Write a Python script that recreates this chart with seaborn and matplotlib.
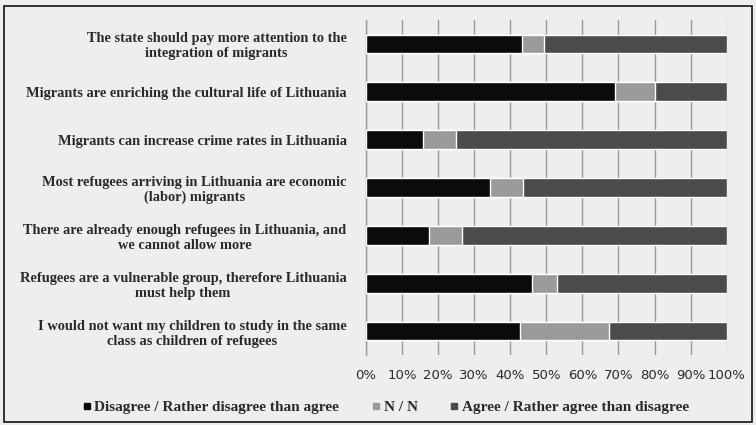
import matplotlib
matplotlib.use("Agg")
import matplotlib.pyplot as plt
from matplotlib.lines import Line2D
from matplotlib.patches import Rectangle
import seaborn as sns
import pandas as pd
import numpy as np

statements = [
    "The state should pay more attention to the\nintegration of migrants",
    "Migrants are enriching the cultural life of Lithuania",
    "Migrants can increase crime rates in Lithuania",
    "Most refugees arriving in Lithuania are economic\n(labor) migrants",
    "There are already enough refugees in Lithuania, and\nwe cannot allow more",
    "Refugees are a vulnerable group, therefore Lithuania\nmust help them",
    "I would not want my children to study in the same\nclass as children of refugees",
]
disagree = [43.3, 69.1, 15.9, 34.4, 17.6, 46.0, 42.6]
neutral = [6.1, 10.9, 9.0, 9.2, 9.1, 7.0, 24.8]
agree = [50.6, 20.0, 75.1, 56.4, 73.3, 47.0, 32.6]
series_names = ["Disagree / Rather disagree than agree", "N / N",
                "Agree / Rather agree than disagree"]
tick_labels = ["0%", "10%", "20%", "30%", "40%", "50%", "60%", "70%", "80%", "90%", "100%"]

colors = ["#0b0b0b", "#9a9a9a", "#4b4b4b"]
bg = "#eeeeee"
text_color = "#2a2a2a"

df = pd.DataFrame({"statement": statements, "d": disagree, "n": neutral, "a": agree})
df["cum_d"] = df["d"]
df["cum_n"] = df["d"] + df["n"]
df["cum_a"] = df["d"] + df["n"] + df["a"]

sns.set_style("white")
fig = plt.figure(figsize=(7.56, 4.25), dpi=100, facecolor=bg)
ax = fig.add_axes([366 / 756, 1 - 355 / 425, (726.7 - 366) / 756, (355 - 20) / 425])
ax.set_facecolor(bg)

# stacked bars: draw cumulative totals from the longest to the shortest
for col, c in zip(["cum_a", "cum_n", "cum_d"], colors[::-1]):
    sns.barplot(data=df, x=col, y="statement", orient="h", color=c,
                width=0.39, ax=ax, saturation=1, zorder=3)

ax.set_xlim(0, 100)
ax.set_xticks(np.arange(0, 101, 10))
ax.set_xticklabels(tick_labels, fontfamily="DejaVu Sans", fontsize=9.5, color=text_color)
ax.set_yticks(range(len(statements)))
ax.set_yticklabels(statements, fontfamily="Liberation Serif", fontsize=10.4,
                   fontweight="bold", color=text_color, multialignment="center")
ax.tick_params(axis="both", length=0)
ax.tick_params(axis="y", pad=14)
ax.tick_params(axis="x", pad=10)
ax.set_xlabel("")
ax.set_ylabel("")
ax.grid(axis="x", color="#9a9a9a", linewidth=1.0, zorder=0)
ax.set_axisbelow(True)
for s in ["top", "right", "bottom"]:
    ax.spines[s].set_visible(False)
ax.spines["left"].set_color("#9a9a9a")
ax.spines["left"].set_linewidth(1.0)

handles = [Line2D([0], [0], marker="s", linestyle="none", markersize=5,
                  markerfacecolor=c, markeredgecolor=c) for c in colors]
fig.legend(handles, series_names, loc="center", bbox_to_anchor=(384 / 756, 1 - 407 / 425),
           ncol=3, frameon=False, handletextpad=0.0, columnspacing=1.9,
           handlelength=1.0, borderpad=0.2,
           prop={"family": "Liberation Serif", "size": 11, "weight": "bold"},
           labelcolor=text_color)

fig.patches.append(Rectangle((4 / 756, 3 / 425), 1 - 8 / 756, 1 - 9 / 425,
                             transform=fig.transFigure, fill=False,
                             edgecolor="#111111", linewidth=1.2))

fig.savefig("out.png", dpi=100, facecolor=bg)
